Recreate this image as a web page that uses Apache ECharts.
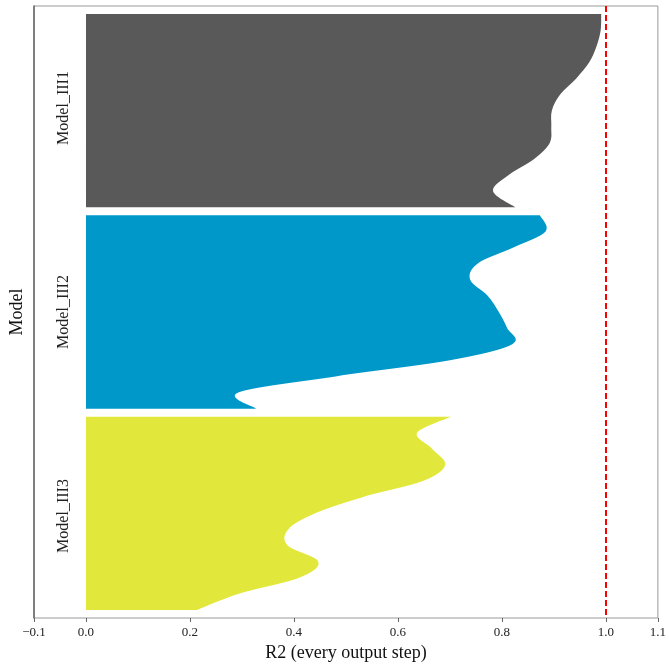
<!DOCTYPE html>
<html>
<head>
<meta charset="utf-8">
<script src="https://cdn.jsdelivr.net/npm/echarts@6/dist/echarts.min.js"></script>
<style>
html,body{margin:0;padding:0;background:#fff;}
#chart{width:669px;height:668px;}
</style>
</head>
<body>
<div id="chart"></div>
<script>
// ---- data ----
const categories = ['Model_III1', 'Model_III2', 'Model_III3'];
// output step index of each sampled R2 value (top to bottom within a model band)
const outputSteps = [0, 2, 4, 6, 8, 10, 12, 14, 16, 18, 20, 22, 24];
const r2Model1 = [0.991, 0.990, 0.982, 0.968, 0.943, 0.912, 0.896, 0.895, 0.892, 0.862, 0.813, 0.783, 0.826];
const r2Model2 = [0.873, 0.884, 0.822, 0.753, 0.739, 0.773, 0.794, 0.810, 0.820, 0.700, 0.480, 0.293, 0.327];
const r2Model3 = [0.702, 0.637, 0.666, 0.691, 0.648, 0.532, 0.441, 0.389, 0.388, 0.447, 0.410, 0.294, 0.214];
const xTickValues = [-0.1, 0.0, 0.2, 0.4, 0.6, 0.8, 1.0, 1.1];
const referenceLine = 1.0;
const colors = ['#595959', '#0097c9', '#e2e83b'];

// ---- build ----
const modelSeries = [r2Model1, r2Model2, r2Model3];
const stepsPerModel = outputSteps[outputSteps.length - 1] + 1;
const pad = 1;
const totalRows = pad * 2 + stepsPerModel * modelSeries.length;
const rowCats = Array.from({length: totalRows}, (_, i) => String(i));

const serif = 'Liberation Serif';
const axisColor = '#666';

function f(n) { return n.toFixed(2); }

const series = modelSeries.map((vals, k) => {
  const data = vals.map((v, i) => [v, pad + k * stepsPerModel + outputSteps[i]]);
  return {
    name: categories[k],
    type: 'custom',
    xAxisIndex: 0,
    yAxisIndex: 1,
    data: data,
    renderItem: function (params, api) {
      if (params.dataIndex !== 0) return null;
      const pts = data.map(d => api.coord(d));
      const top = api.coord([0, data[0][1]]);
      const bottom = api.coord([0, data[data.length - 1][1]]);
      let d = 'M' + f(top[0]) + ',' + f(top[1]) + 'L' + f(pts[0][0]) + ',' + f(pts[0][1]);
      const n = pts.length;
      for (let i = 0; i < n - 1; i++) {
        const p0 = pts[Math.max(0, i - 1)], p1 = pts[i], p2 = pts[i + 1], p3 = pts[Math.min(n - 1, i + 2)];
        const c1x = p1[0] + (p2[0] - p0[0]) / 6, c1y = p1[1] + (p2[1] - p0[1]) / 6;
        const c2x = p2[0] - (p3[0] - p1[0]) / 6, c2y = p2[1] - (p3[1] - p1[1]) / 6;
        d += 'C' + f(c1x) + ',' + f(c1y) + ' ' + f(c2x) + ',' + f(c2y) + ' ' + f(p2[0]) + ',' + f(p2[1]);
      }
      d += 'L' + f(bottom[0]) + ',' + f(bottom[1]) + 'Z';
      return {type: 'path', shape: {pathData: d}, style: {fill: colors[k], stroke: null}};
    }
  };
});
series.push({
  type: 'line',
  xAxisIndex: 0,
  yAxisIndex: 1,
  data: [],
  markLine: {
    silent: true,
    symbol: 'none',
    label: {show: false},
    lineStyle: {color: '#ff0000', type: [6, 3], width: 2},
    data: [{xAxis: referenceLine}]
  }
});

const chart = echarts.init(document.getElementById('chart'), null, {renderer: 'canvas'});
chart.setOption({
  animation: false,
  backgroundColor: '#fff',
  grid: {left: 34, right: 6, top: 6, bottom: 50, show: true, borderColor: '#999', borderWidth: 1},
  xAxis: {
    type: 'value', min: -0.1, max: 1.1, interval: 0.1,
    splitLine: {show: false},
    axisLine: {onZero: false, lineStyle: {color: axisColor, width: 1.5}},
    axisTick: {show: true, length: 4, customValues: xTickValues, lineStyle: {color: axisColor}},
    axisLabel: {
      customValues: xTickValues, margin: 8, fontFamily: serif, fontSize: 13, color: '#222',
      formatter: v => (v < 0 ? '\u2212' + Math.abs(v).toFixed(1) : v.toFixed(1))
    },
    name: 'R2 (every output step)', nameLocation: 'middle', nameGap: 24,
    nameTextStyle: {fontFamily: serif, fontSize: 18, color: '#111'}
  },
  yAxis: [{
    type: 'category', data: categories, inverse: true, boundaryGap: true,
    axisLine: {onZero: false, lineStyle: {color: axisColor, width: 1.5}},
    axisTick: {show: false},
    splitLine: {show: false},
    axisLabel: {inside: true, rotate: 90, margin: 22, fontFamily: serif, fontSize: 16, color: '#222'},
    name: 'Model', nameLocation: 'middle', nameRotate: 90, nameGap: 7,
    nameTextStyle: {fontFamily: serif, fontSize: 18, color: '#111'}
  }, {
    type: 'category', data: rowCats, inverse: true, boundaryGap: false, show: false,
    axisLine: {onZero: false}
  }],
  series: series
});
</script>
</body>
</html>
